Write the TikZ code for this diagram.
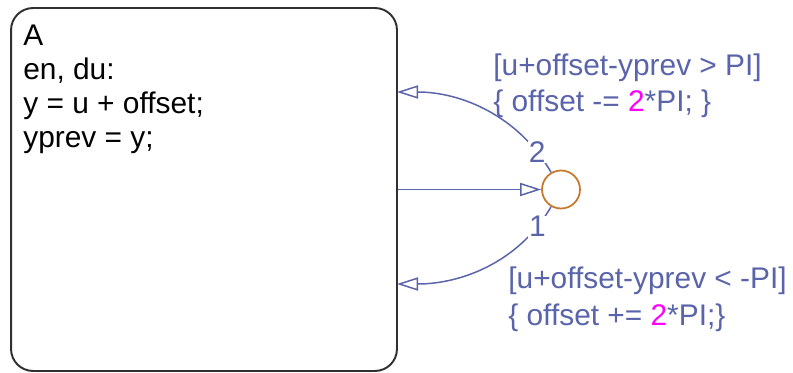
\documentclass[tikz,border=0pt]{standalone}
\usepackage{fontspec}
\setmainfont{Liberation Sans}
\usepackage{xcolor}
\usetikzlibrary{arrows.meta, positioning, calc}

\definecolor{transblue}{RGB}{90,100,170}
\definecolor{junctorange}{RGB}{200,120,45}
\definecolor{stategray}{RGB}{48,48,48}
\definecolor{numpink}{RGB}{255,0,255}

\tikzset{
  statebox/.style={draw=stategray, line width=1.1pt, rounded corners=0.44cm,
    minimum width=7.72cm, minimum height=7.26cm, inner sep=0pt},
  junct/.style={circle, draw=junctorange, line width=1pt, minimum size=0.76cm, inner sep=0pt},
  trans/.style={draw=transblue, line width=0.85pt,
    -{Triangle[open, length=12pt, width=7.5pt]}},
  translabel/.style={font=\fontsize{17}{20.5}\selectfont, text=transblue,
    align=left, anchor=base west, inner sep=0pt},
  tnum/.style={font=\fontsize{17}{20}\selectfont, text=transblue, fill=white, inner sep=0.5pt},
}

\begin{document}
\begin{tikzpicture}[x=0.02cm, y=0.02cm]
		\useasboundingbox (0,0) rectangle (793,372);
		% state A
		\node[statebox] (A) at (204,182.5) {};
		\node[font=\fontsize{17}{19.5}\selectfont, align=left, anchor=base west, inner sep=0pt]
			(Atext) at (23,224) {A\\en, du:\\y = u + offset;\\yprev = y;};
		% connective junction
		\node[junct] (J) at (561,182.5) {};
		\coordinate (in2) at (397,280);
		\coordinate (in1) at (397,88);
		% transitions
		\draw[trans] (A.east) -- (J);
		\draw[trans] (J.120) to[out=120, in=0, looseness=0.95] node[tnum, pos=0.13] {2} (in2);
		\draw[trans] (J.240) to[out=240, in=0, looseness=0.95] node[tnum, pos=0.13] {1} (in1);
		% labels
		\node[translabel] (lab2) at (493,260) {[u+offset-yprev > PI]\\\{ offset -= \textcolor{numpink}{2}*PI; \}};
		\node[translabel] (lab1) at (508,47) {[u+offset-yprev < -PI]\\\{ offset += \textcolor{numpink}{2}*PI;\}};
	\end{tikzpicture}
\end{document}
